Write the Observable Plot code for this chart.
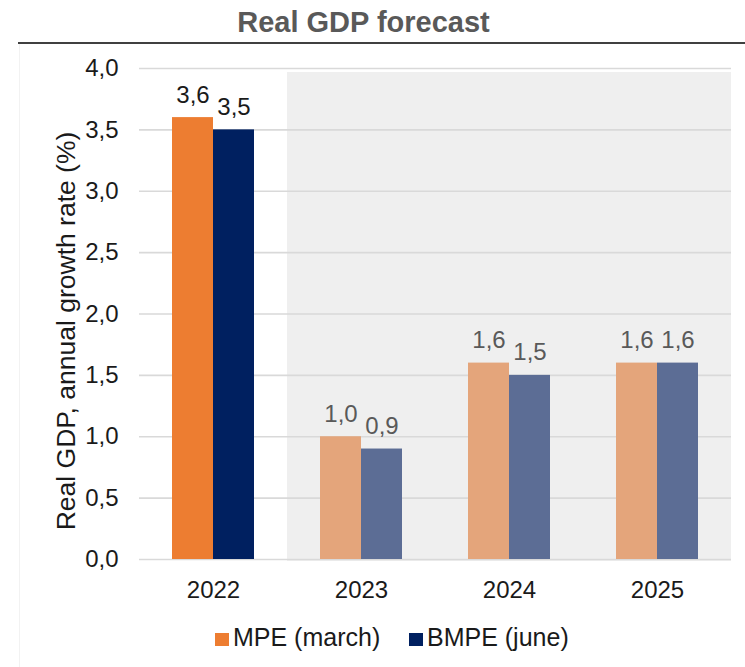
<!DOCTYPE html>
<html>
<head>
<meta charset="utf-8">
<script src="https://cdn.jsdelivr.net/npm/d3@7"></script>
<script src="https://cdn.jsdelivr.net/npm/@observablehq/plot@0.6"></script>
<style>
  html, body { margin: 0; padding: 0; background: #fff; }
  body { font-family: "Liberation Sans", Arial, sans-serif; }
  #wrap { position: relative; width: 745px; height: 667px; overflow: hidden; }
  #title { position: absolute; left: 0; top: 5px; width: 727px; text-align: center;
           font-size: 29px; font-weight: bold; color: #595959; line-height: 34px; }
  #rule { position: absolute; left: 18px; top: 42px; width: 727px; height: 2px; background: #404040; }
  #vline { position: absolute; left: 19px; top: 44px; width: 1px; height: 623px; background: #f2f2f2; }
  #chart { position: absolute; left: 0; top: 0; }
  .leg { position: absolute; top: 622px; font-size: 25px; color: #1a1a1a; line-height: 30px; white-space: nowrap; }
  .leg .sw { display: inline-block; width: 14px; height: 13px; margin-right: 4px; vertical-align: 0px; }
</style>
</head>
<body>
<div id="wrap">
  <div id="title">Real GDP forecast</div>
  <div id="rule"></div>
  <div id="vline"></div>
  <div id="chart"></div>
  <div class="leg" style="left:215px"><span class="sw" style="background:#ED7D31"></span>MPE (march)</div>
  <div class="leg" style="left:409px"><span class="sw" style="background:#002060"></span>BMPE (june)</div>
</div>
<script>
const years = ["2022", "2023", "2024", "2025"];
const series = ["MPE (march)", "BMPE (june)"];
const mpeValues = [3.6, 1.0, 1.6, 1.6];
const bmpeValues = [3.5, 0.9, 1.5, 1.6];
const forecastYears = ["2023", "2024", "2025"];
const yTicks = [0, 0.5, 1, 1.5, 2, 2.5, 3, 3.5, 4];
const yLabel = "Real GDP, annual growth rate (%)";

const colorActual = {"MPE (march)": "#ED7D31", "BMPE (june)": "#002060"};
const colorForecast = {"MPE (march)": "#E4A57B", "BMPE (june)": "#5C6D95"};

const data = [];
years.forEach((yr, i) => {
  data.push({year: yr, series: series[0], value: mpeValues[i]});
  data.push({year: yr, series: series[1], value: bmpeValues[i]});
});
const isForecast = d => forecastYears.includes(d.year);
const fmt = v => v.toFixed(1).replace(".", ",");

const chart = Plot.plot({
  width: 745,
  height: 667,
  marginTop: 68,
  marginBottom: 108,
  marginLeft: 138,
  marginRight: 14,
  style: {fontFamily: "'Liberation Sans', Arial, sans-serif", background: "transparent"},
  fx: {domain: years, padding: 0, label: null},
  x: {domain: series, paddingInner: 0, paddingOuter: 0.765, axis: null},
  y: {domain: [0, 4], label: null},
  color: {type: "identity"},
  marks: [
    Plot.rect(forecastYears, {fx: d => d, y1: 0, y2: 4, insetTop: 4, insetBottom: -2, fill: "#efefef", shapeRendering: "crispEdges"}),
    Plot.gridY(yTicks, {stroke: "#d9d9d9", strokeOpacity: 1, strokeWidth: 1.6}),
    Plot.barY(data, {fx: "year", x: "series", y: "value",
      fill: d => isForecast(d) ? colorForecast[d.series] : colorActual[d.series]}),
    Plot.text(data, {fx: "year", x: "series", y: "value", text: d => fmt(d.value),
      fill: d => isForecast(d) ? "#595959" : "#1a1a1a", fontSize: 24, dy: -15, lineAnchor: "bottom"}),
    Plot.axisY(yTicks, {tickSize: 0, tickPadding: 21, fontSize: 24, tickFormat: fmt, color: "#1a1a1a", label: null}),
    Plot.text([yLabel], {frameAnchor: "left", facetAnchor: "left", rotate: -90, dx: -73, dy: 17,
      textAnchor: "middle", fontSize: 26.5, fill: "#1a1a1a", text: d => d}),
    Plot.axisFx({anchor: "bottom", tickSize: 0, tickPadding: 21, fontSize: 24, color: "#1a1a1a", label: null})
  ]
});
document.getElementById("chart").appendChild(chart);
</script>
</body>
</html>
